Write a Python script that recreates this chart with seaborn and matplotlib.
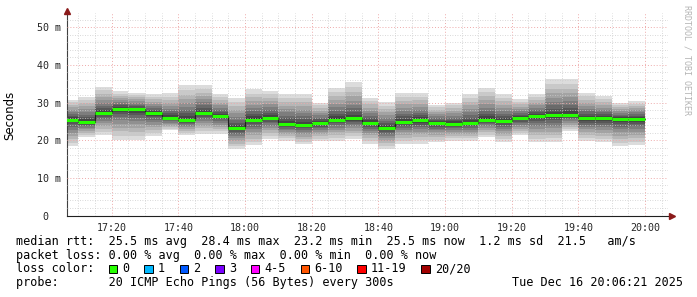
import numpy as np
import pandas as pd
import matplotlib
matplotlib.use("Agg")
import matplotlib.pyplot as plt
from matplotlib.patches import Rectangle
from matplotlib.ticker import FixedLocator, MultipleLocator
import seaborn as sns

# ---------------- data ----------------
bar_start = pd.date_range("2025-12-16 17:05", periods=35, freq="5min")
median_ms = [25.5, 24.9, 27.3, 28.4, 28.2, 27.2, 25.9, 25.4, 27.3, 26.4,
             23.2, 25.5, 26.0, 24.3, 24.1, 24.5, 25.5, 25.8, 24.6, 23.2,
             24.9, 25.3, 24.5, 24.4, 24.5, 25.5, 25.1, 25.8, 26.4, 26.6,
             26.7, 25.8, 25.8, 25.6, 25.6]
max_ms = [30.8, 31.6, 34.2, 33.0, 32.6, 32.2, 32.5, 34.6, 34.6, 32.2,
          31.3, 33.5, 33.2, 32.4, 32.2, 30.0, 34.0, 35.5, 31.3, 30.1,
          32.6, 32.6, 29.4, 30.0, 32.4, 33.9, 32.2, 30.9, 32.2, 36.3,
          36.3, 32.6, 31.7, 29.9, 30.4]
min_ms = [18.4, 20.8, 21.5, 20.1, 20.1, 21.0, 22.6, 21.3, 21.7, 21.7,
          17.6, 18.6, 20.4, 19.9, 18.9, 19.8, 19.9, 20.4, 19.1, 17.7,
          19.1, 19.1, 19.5, 19.9, 19.9, 20.8, 19.5, 21.3, 19.5, 19.5,
          22.4, 19.9, 19.5, 18.4, 18.6]
ytick_vals = [0, 10, 20, 30, 40, 50]
ytick_labels = ["0  ", "10 m", "20 m", "30 m", "40 m", "50 m"]
xtick_labels = ["17:20", "17:40", "18:00", "18:20", "18:40", "19:00",
                "19:20", "19:40", "20:00"]
loss_labels = ["0", "1", "2", "3", "4-5", "6-10", "11-19", "20/20"]
loss_colors = ["#26ff00", "#00b8ff", "#0059ff", "#7a00ff", "#ff00ff",
               "#ff5500", "#ff0000", "#a10000"]

# ---------------- figure ----------------
sns.set_style("white")
W, H = 697, 297
fig = plt.figure(figsize=(W / 100, H / 100), dpi=100)
fig.patch.set_facecolor("white")

ax_l, ax_r, ax_b, ax_t = 66.5, 668, 215.5, 13
ax = fig.add_axes([ax_l / W, 1 - ax_b / H, (ax_r - ax_l) / W, (ax_b - ax_t) / H])
ax.set_facecolor("white")

def to_min(ts):
    return ts.hour * 60 + ts.minute

starts = np.array([to_min(t) for t in bar_start], dtype=float)
ends = starts + 5
med = np.array(median_ms)
lo = np.array(min_ms)
hi = np.array(max_ms)

# smoke layers (outer light -> inner dark)
nl = 10
for k in range(nl):
    w = ((nl - k) / nl) ** 1.4
    g = int(220 - k * 19)
    col = "#%02x%02x%02x" % (g, g, g)
    bot = med - (med - lo) * w
    top = med + (hi - med) * w
    ax.bar(starts, top - bot, bottom=bot, width=5, align="edge",
           color=col, linewidth=0, zorder=1)

# median step line (dark) + green loss-colored segments
step_df = pd.DataFrame({"t": np.append(starts, ends[-1]),
                        "v": np.append(med, med[-1])})
sns.lineplot(data=step_df, x="t", y="v", drawstyle="steps-post",
             color="#202020", linewidth=0.8, estimator=None, ax=ax, zorder=3)
ax.hlines(med, starts, ends, color=loss_colors[0], linewidth=2.2, zorder=4)

# limits
ax.set_xlim(1026.4, 1206.9)
ax.set_ylim(0, 53.8)

# grid
ax.yaxis.set_major_locator(FixedLocator(ytick_vals))
ax.yaxis.set_minor_locator(MultipleLocator(2))
xt = [17 * 60 + 20 + 20 * i for i in range(len(xtick_labels))]
ax.xaxis.set_major_locator(FixedLocator(xt))
ax.xaxis.set_minor_locator(MultipleLocator(5))
ax.set_yticklabels(ytick_labels, family="DejaVu Sans Mono", fontsize=7.2)
ax.set_xticklabels(xtick_labels, family="DejaVu Sans Mono", fontsize=7.2)
ax.grid(which="minor", color="#cccccc", linestyle=(0, (1, 2)), linewidth=0.6, zorder=5)
ax.grid(which="major", color="#eeaaaa", linestyle=(0, (1, 2)), linewidth=0.7, zorder=5)
ax.set_axisbelow(False)

ax.tick_params(axis="both", which="major", direction="inout", length=5,
               width=0.7, color="#404040", pad=1.5)
ax.tick_params(axis="both", which="minor", direction="inout", length=2,
               width=0.6, color="#404040")
ax.tick_params(axis="x", which="major", pad=3)

for s in ["top", "right"]:
    ax.spines[s].set_visible(False)
ax.spines["left"].set_color("#404040")
ax.spines["left"].set_linewidth(0.8)
ax.spines["bottom"].set_color("#202020")
ax.spines["bottom"].set_linewidth(0.8)
ax.set_xlabel("")
ax.set_ylabel("")

# arrows
ax.plot([0], [1.01], marker="^", color="#8b1a1a", markersize=4,
        transform=ax.transAxes, clip_on=False, zorder=10)
ax.plot([1.006], [0], marker=">", color="#8b1a1a", markersize=4,
        transform=ax.transAxes, clip_on=False, zorder=10)

# y label
fig.text(10 / W, 1 - 115 / H, "Seconds", rotation=90, ha="center", va="center",
         fontsize=8.5, family="DejaVu Sans", color="black")

# watermark
fig.text(687 / W, 1 - 60 / H, "RRDTOOL / TOBI OETIKER", rotation=-90,
         ha="center", va="center", fontsize=6, family="DejaVu Sans Mono",
         color="#b4b4b4")

# legend text
cw = 7.1
x0 = 16
mono = dict(family="DejaVu Sans Mono", fontsize=8.5, color="black", va="center", ha="left")
line1 = "median rtt:  25.5 ms avg  28.4 ms max  23.2 ms min  25.5 ms now  1.2 ms sd  21.5   am/s"
line2 = "packet loss: 0.00 % avg  0.00 % max  0.00 % min  0.00 % now"
line4 = "probe:       20 ICMP Echo Pings (56 Bytes) every 300s"
ys = [241.5, 255.3, 269.0, 282.8]
fig.text(x0 / W, 1 - ys[0] / H, line1, **mono)
fig.text(x0 / W, 1 - ys[1] / H, line2, **mono)
fig.text(x0 / W, 1 - ys[3] / H, line4, **mono)
fig.text(512.5 / W, 1 - ys[3] / H, "Tue Dec 16 20:06:21 2025", **mono)

fig.text(x0 / W, 1 - ys[2] / H, "loss color:", **mono)
c = 13
for lab, col in zip(loss_labels, loss_colors):
    bx = x0 + c * cw + 0.5
    fig.patches.append(Rectangle((bx / W, 1 - (ys[2] + 4.2) / H), 8.4 / W, 8.4 / H,
                                 transform=fig.transFigure, facecolor=col,
                                 edgecolor="black", linewidth=0.7, figure=fig))
    fig.text((x0 + (c + 2) * cw) / W, 1 - ys[2] / H, lab, **mono)
    c += 2 + len(lab) + 2

fig.savefig("out.png", dpi=100, facecolor="white")
